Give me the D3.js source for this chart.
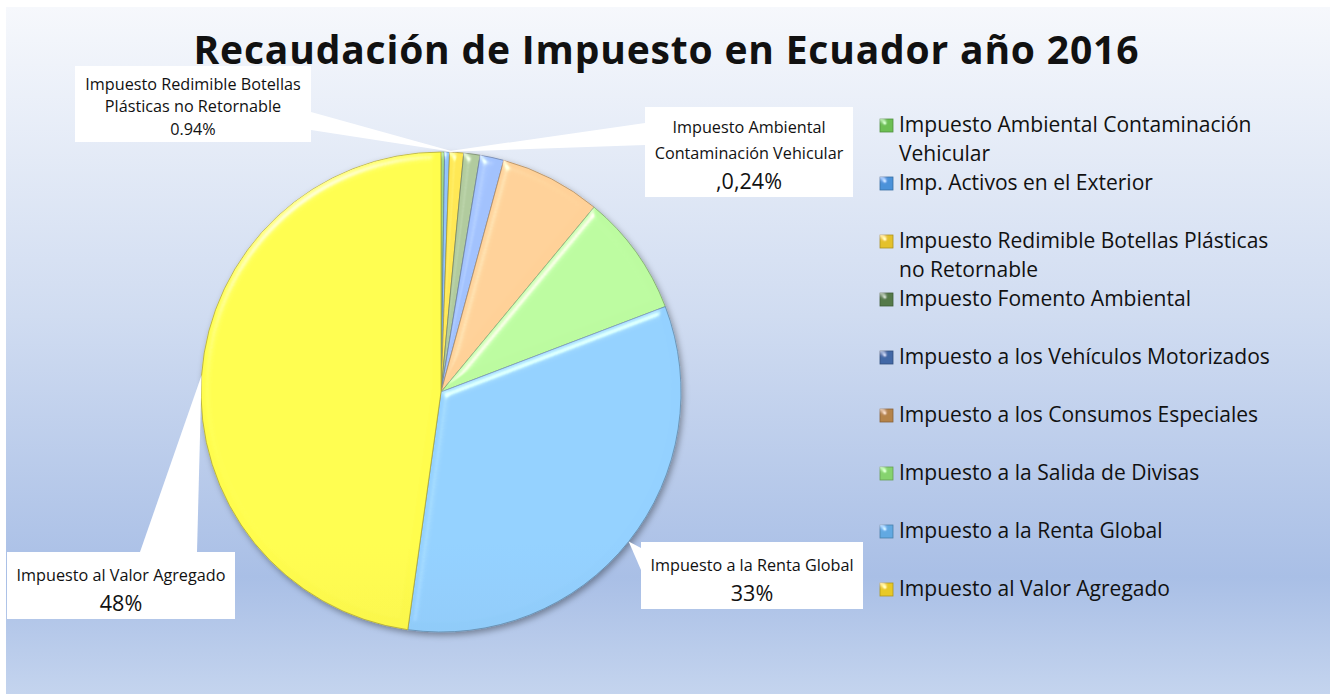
<!DOCTYPE html>
<html lang="es">
<head>
<meta charset="utf-8" />
<title>Recaudación de Impuesto en Ecuador año 2016</title>
<script src="https://d3js.org/d3.v7.min.js"></script>
<style>
  body { margin: 0; background: #fff; }
  text { font-family: "Open Sans", "Noto Sans", sans-serif; fill: #111; }
</style>
</head>
<body>
<div id="chart"></div>
<script>
// data (share of total collection, %)
var categories = [
  "Impuesto Ambiental Contaminación Vehicular",
  "Imp. Activos en el Exterior",
  "Impuesto Redimible Botellas Plásticas no Retornable",
  "Impuesto Fomento Ambiental",
  "Impuesto a los Vehículos Motorizados",
  "Impuesto a los Consumos Especiales",
  "Impuesto a la Salida de Divisas",
  "Impuesto a la Renta Global",
  "Impuesto al Valor Agregado"
];
var shares = [0.24, 0.33, 0.94, 1.1, 1.6, 6.8, 8.2, 33.0, 47.79];
// legend wraps the way the original does
var legendLines = [
  ["Impuesto Ambiental Contaminación", "Vehicular"],
  ["Imp. Activos en el Exterior"],
  ["Impuesto Redimible Botellas Plásticas", "no Retornable"],
  ["Impuesto Fomento Ambiental"],
  ["Impuesto a los Vehículos Motorizados"],
  ["Impuesto a los Consumos Especiales"],
  ["Impuesto a la Salida de Divisas"],
  ["Impuesto a la Renta Global"],
  ["Impuesto al Valor Agregado"]
];
// callouts shown on the chart
var calloutIndex = [0, 2, 7, 8];
var calloutNames = [
  ["Impuesto Ambiental", "Contaminación Vehicular"],
  ["Impuesto Redimible Botellas", "Plásticas no Retornable"],
  ["Impuesto a la Renta Global"],
  ["Impuesto al Valor Agregado"]
];
var calloutValues = [",0,24%", "0.94%", "33%", "48%"];

var title = "Recaudación de Impuesto en Ecuador año 2016";

var sliceColors = ["#98cc80", "#88b8ee", "#f4dc50", "#a8c096", "#9ab8f0",
                   "#f6c690", "#b2ee98", "#8cc6f6", "#fdf04a"];
var legendColors = ["#6cbf52", "#4b92d9", "#e4c12a", "#557a4a", "#4268a6",
                    "#b5834a", "#86d36e", "#62a9e2", "#e8c925"];

var width = 1333, height = 697;
var cx = 441, cy = 392, radius = 240;

var svg = d3.select("#chart").append("svg")
  .attr("width", width)
  .attr("height", height);

var defs = svg.append("defs");

var bg = defs.append("linearGradient").attr("id", "bg")
  .attr("x1", 0).attr("y1", 0).attr("x2", 0).attr("y2", 1);
bg.append("stop").attr("offset", 0).attr("stop-color", "#f6f8fc");
bg.append("stop").attr("offset", 0.45).attr("stop-color", "#d0dcf1");
bg.append("stop").attr("offset", 0.83).attr("stop-color", "#a9bfe6");
bg.append("stop").attr("offset", 1).attr("stop-color", "#c4d4ee");

// bevel look of each slice
var bevel = defs.append("filter").attr("id", "bevel")
  .attr("x", "-10%").attr("y", "-10%").attr("width", "120%").attr("height", "120%");
bevel.append("feGaussianBlur").attr("in", "SourceAlpha").attr("stdDeviation", 4).attr("result", "blur");
var spec = bevel.append("feSpecularLighting").attr("in", "blur")
  .attr("surfaceScale", 5).attr("specularConstant", 0.9).attr("specularExponent", 35)
  .attr("lighting-color", "#ffffff").attr("result", "spec");
spec.append("feDistantLight").attr("azimuth", 235).attr("elevation", 35);
bevel.append("feComposite").attr("in", "spec").attr("in2", "SourceAlpha")
  .attr("operator", "in").attr("result", "specIn");
bevel.append("feComposite").attr("in", "SourceGraphic").attr("in2", "specIn")
  .attr("operator", "arithmetic").attr("k1", 0).attr("k2", 1).attr("k3", 0.6).attr("k4", 0);

var shadow = defs.append("filter").attr("id", "shadow")
  .attr("x", "-10%").attr("y", "-10%").attr("width", "120%").attr("height", "120%");
shadow.append("feDropShadow").attr("dx", 2).attr("dy", 3).attr("stdDeviation", 3)
  .attr("flood-color", "#000").attr("flood-opacity", 0.35);

sliceColors.forEach(function(c, i) {
  var g = defs.append("linearGradient").attr("id", "sg" + i)
    .attr("gradientUnits", "userSpaceOnUse")
    .attr("x1", 0).attr("y1", cy - radius).attr("x2", 0).attr("y2", cy + radius);
  g.append("stop").attr("offset", 0).attr("stop-color", d3.color(c).brighter(0.15));
  g.append("stop").attr("offset", 1).attr("stop-color", d3.color(c).darker(0.3));
});

svg.append("rect")
  .attr("x", 6).attr("y", 7)
  .attr("width", 1324).attr("height", 687)
  .attr("fill", "url(#bg)");

// title
svg.append("text")
  .attr("x", 666).attr("y", 64)
  .attr("text-anchor", "middle")
  .attr("font-size", 39)
  .attr("font-weight", "bold")
  .attr("textLength", 945)
  .attr("lengthAdjust", "spacing")
  .text(title);

// pie
var pie = d3.pie().sort(null).value(function(d) { return d; });
var arcs = pie(shares);
var arc = d3.arc().innerRadius(0).outerRadius(radius);

var pieG = svg.append("g")
  .attr("transform", "translate(" + cx + "," + cy + ")")
  .attr("filter", "url(#shadow)");

pieG.selectAll("path")
  .data(arcs)
  .enter()
  .append("path")
  .attr("d", arc)
  .attr("fill", function(d, i) { return "url(#sg" + i + ")"; })
  .attr("stroke", function(d, i) { return d3.color(sliceColors[i]).darker(1); })
  .attr("stroke-width", 0.8)
  .attr("filter", "url(#bevel)");

// callouts: box position and where the pointer meets the box
var boxes = [
  { x: 645, y: 107, w: 208, h: 90, base: [[645, 123], [645, 145]], lines: [127, 153], val: 181, big: true },
  { x: 75, y: 66, w: 236, h: 76, base: [[311, 112], [311, 130]], lines: [84, 106], val: 129, big: false },
  { x: 641, y: 542, w: 222, h: 67, base: [[641, 548], [641, 570]], lines: [565], val: 593, big: true },
  { x: 7, y: 552, w: 228, h: 67, base: [[140, 552], [197, 552]], lines: [575], val: 603, big: true }
];

var labG = svg.append("g");
calloutIndex.forEach(function(idx, k) {
  var a = arcs[idx];
  var mid = (a.startAngle + a.endAngle) / 2;
  var tip = [cx + radius * Math.sin(mid), cy - radius * Math.cos(mid)];
  var b = boxes[k];
  labG.append("path")
    .attr("d", d3.line()([tip, b.base[0], b.base[1]]) + "Z")
    .attr("fill", "#fff");
  labG.append("rect")
    .attr("x", b.x).attr("y", b.y)
    .attr("width", b.w).attr("height", b.h)
    .attr("fill", "#fff");
  calloutNames[k].forEach(function(line, j) {
    labG.append("text")
      .attr("class", "cname")
      .attr("x", b.x + b.w / 2)
      .attr("y", b.lines[j])
      .attr("dy", "0.35em")
      .attr("text-anchor", "middle")
      .text(line);
  });
  labG.append("text")
    .attr("class", b.big ? "cvalbig" : "cname")
    .attr("x", b.x + b.w / 2)
    .attr("y", b.val)
    .attr("dy", "0.35em")
    .attr("text-anchor", "middle")
    .text(calloutValues[k]);
});

// fit callout font so "Impuesto al Valor Agregado" is about 209px wide
var probe = svg.append("text").attr("font-size", 20).text("Impuesto al Valor Agregado");
var cSize = 20 * 209 / probe.node().getComputedTextLength();
probe.remove();
labG.selectAll(".cname").attr("font-size", cSize);
labG.selectAll(".cvalbig").attr("font-size", cSize * 1.33);

// legend
var legY = d3.scaleLinear().domain([0, 8]).range([125, 589]);
var legG = svg.append("g");
var probe2 = svg.append("text").attr("font-size", 20).text("Impuesto a los Vehículos Motorizados");
var lSize = 20 * 371 / probe2.node().getComputedTextLength();
probe2.remove();

legendLines.forEach(function(lines, i) {
  var y = legY(i);
  legG.append("rect")
    .attr("x", 880).attr("y", y - 6)
    .attr("width", 13).attr("height", 13)
    .attr("fill", legendColors[i])
    .attr("stroke", d3.color(legendColors[i]).darker(0.8))
    .attr("stroke-width", 0.8)
    .attr("filter", "url(#bevel)");
  lines.forEach(function(line, j) {
    legG.append("text")
      .attr("x", 899)
      .attr("y", y + j * 28.5)
      .attr("dy", "0.35em")
      .attr("font-size", lSize)
      .text(line);
  });
});
</script>
</body>
</html>
